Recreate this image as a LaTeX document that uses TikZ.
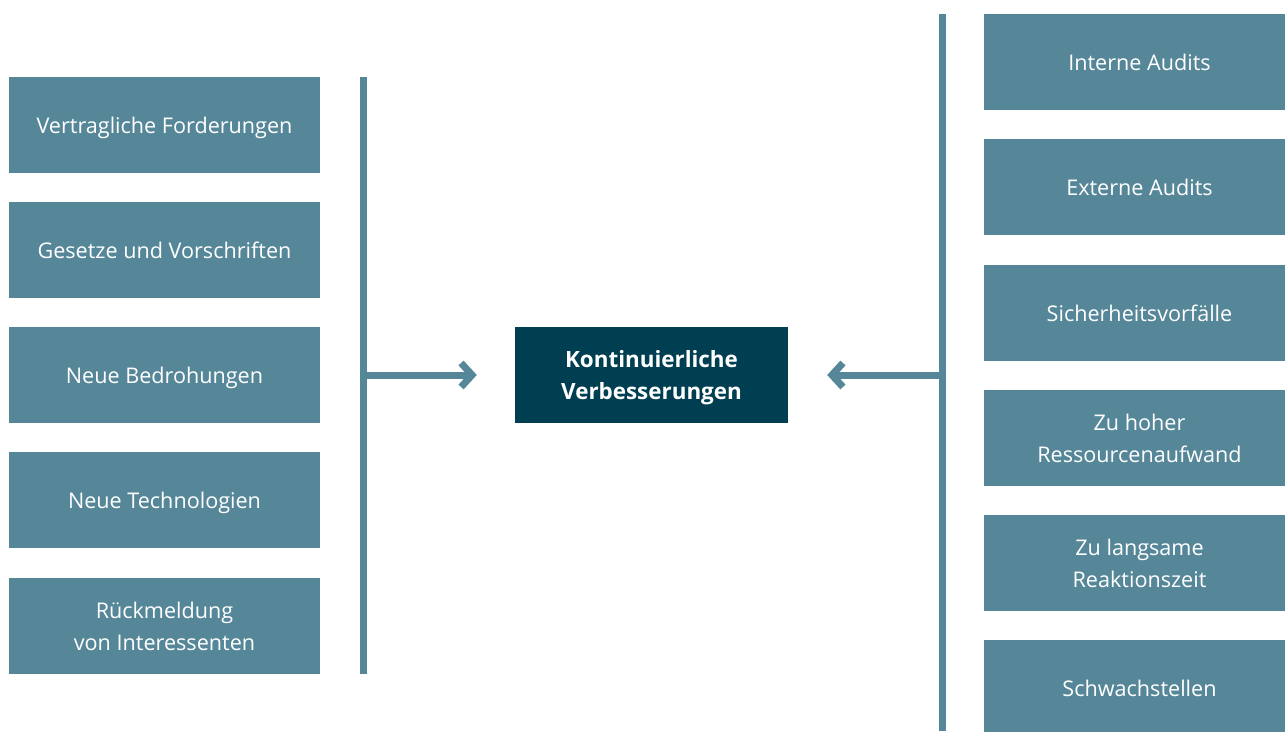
\documentclass[tikz,border=0pt]{standalone}
\usepackage{fontspec}
\setmainfont{Open Sans}
\usetikzlibrary{arrows.meta}
\definecolor{boxc}{HTML}{568799}
\definecolor{darkc}{HTML}{003F52}
\begin{document}
\begin{tikzpicture}[x=1pt,y=-1pt,
  side/.style={fill=boxc, text=white, inner sep=0pt, align=center,
    minimum width=311pt, minimum height=96pt,
    font=\fontsize{21.6}{32}\selectfont},
  one/.style={text height=18pt, text depth=2pt},
  core/.style={fill=darkc, text=white, inner sep=0pt, align=center,
    minimum width=273pt, minimum height=96pt, text depth=-1pt,
    font=\fontsize{22.4}{32}\selectfont\bfseries},
  bar/.style={draw=boxc, line width=7pt},
  arr/.style={draw=boxc, line width=7pt,
    -{Straight Barb[length=11pt, width=24pt, sharp]}}
]
\useasboundingbox (0,0) rectangle (1285,731);
% left boxes
\node[side, one] (l1) at (164.5,125) {Vertragliche Forderungen};
\node[side, one] (l2) at (164.5,250) {Gesetze und Vorschriften};
\node[side, one] (l3) at (164.5,375) {Neue Bedrohungen};
\node[side, one] (l4) at (164.5,500) {Neue Technologien};
\node[side] (l5) at (164.5,626) {Rückmeldung\\von Interessenten};
% right boxes
\node[side, one] (r1) at (1139.5,62) {Interne Audits};
\node[side, one] (r2) at (1139.5,187) {Externe Audits};
\node[side, one] (r3) at (1139.5,313) {Sicherheitsvorfälle};
\node[side] (r4) at (1139.5,438) {Zu hoher\\Ressourcenaufwand};
\node[side] (r5) at (1139.5,563) {Zu langsame\\Reaktionszeit};
\node[side, one] (r6) at (1139.5,688) {Schwachstellen};
% center
\node[core] (c) at (651.5,375) {Kontinuierliche\\Verbesserungen};
% bars
\coordinate (lbtop) at (363,77);
\coordinate (lbbot) at (363,674);
\coordinate (rbtop) at (942,14);
\coordinate (rbbot) at (942,731);
\draw[bar] (lbtop) -- (lbbot);
\draw[bar] (rbtop) -- (rbbot);
% arrows
\draw[arr, shorten >=38pt] (lbtop |- c) -- (c.west);
\draw[arr, shorten >=39pt] (rbtop |- c) -- (c.east);
\end{tikzpicture}
\end{document}
